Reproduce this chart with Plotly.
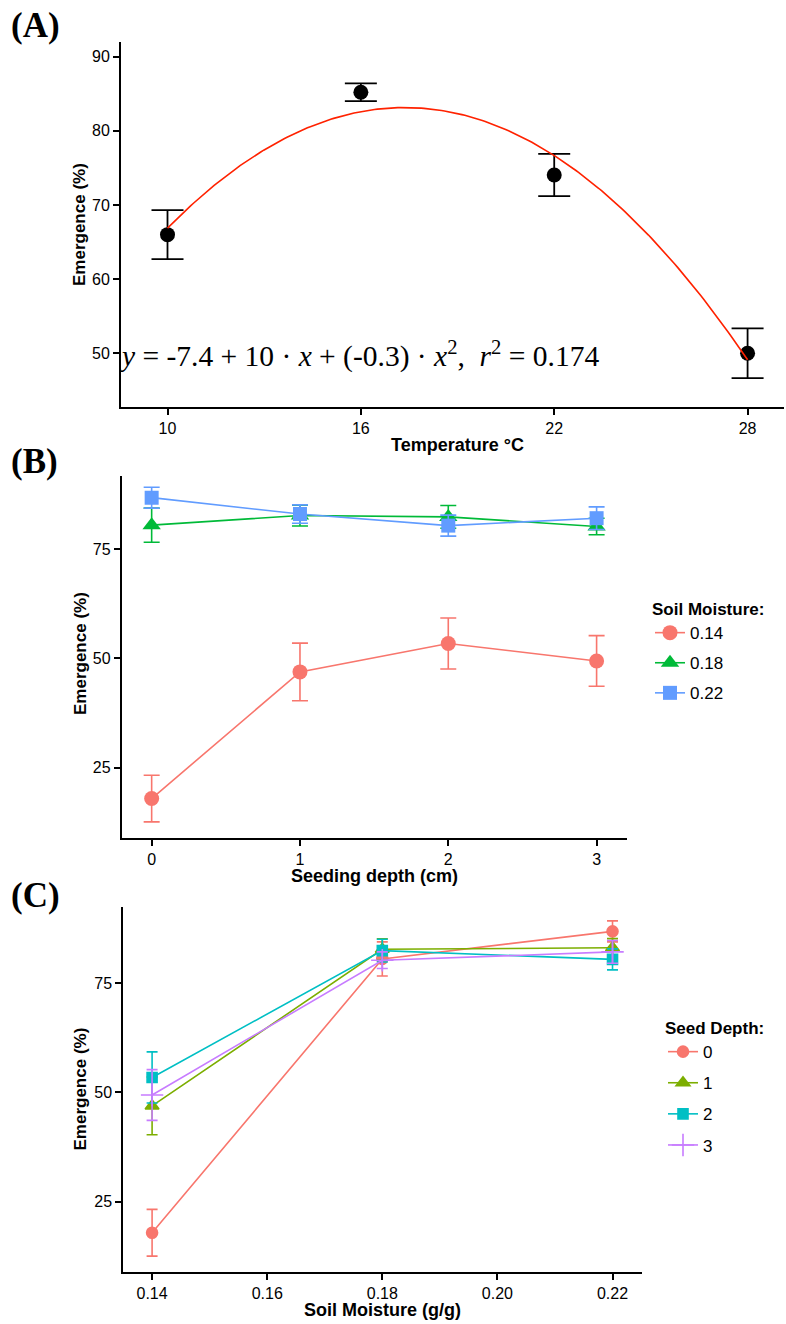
import numpy as np
import plotly.graph_objects as go

W, H = 786, 1324

# ---- Panel A: emergence vs temperature ----
temperature = [10, 16, 22, 28]
emerg_temp = [66.0, 85.2, 74.05, 50.0]
emerg_temp_se = [3.3, 1.2, 2.85, 3.35]

# ---- Panels B/C: emergence by soil moisture x seeding depth ----
soil_moisture = [0.14, 0.18, 0.22]
seed_depth = [0, 1, 2, 3]
# rows: soil moisture, columns: seeding depth
emerg_md = [
    [17.9, 46.9, 53.4, 49.4],
    [80.5, 82.7, 82.4, 80.2],
    [86.8, 83.05, 80.4, 82.1],
]
emerg_md_se = [
    [5.35, 6.6, 5.85, 5.8],
    [3.9, 2.4, 2.6, 1.9],
    [2.4, 2.1, 2.4, 2.6],
]

moisture_labels = ["0.14", "0.18", "0.22"]
depth_labels = ["0", "1", "2", "3"]

SANS = "Liberation Sans, Arial, Helvetica, sans-serif"
SERIF = "Liberation Serif, Times New Roman, serif"


def px_x(p):
    return p / W


def px_y(p):
    return 1 - p / H


fig = go.Figure()

# Panel A points with error bars
fig.add_trace(go.Scatter(
    x=temperature, y=emerg_temp, mode="markers",
    marker=dict(color="black", size=15),
    error_y=dict(type="data", array=emerg_temp_se, color="black",
                 thickness=1.8, width=16),
    showlegend=False, xaxis="x", yaxis="y",
))
# Quadratic fit
coef = np.polyfit(temperature, emerg_temp, 2)
xs = np.linspace(min(temperature), max(temperature), 200)
fig.add_trace(go.Scatter(
    x=xs, y=np.polyval(coef, xs), mode="lines",
    line=dict(color="#FF2200", width=1.6),
    showlegend=False, xaxis="x", yaxis="y",
))

# Panel B: one line per soil moisture
colors_b = ["#F8766D", "#00BA38", "#619CFF"]
symbols_b = ["circle", "triangle-up", "square"]
sizes_b = [15, 16, 14]
for i, lab in enumerate(moisture_labels):
    fig.add_trace(go.Scatter(
        x=seed_depth, y=emerg_md[i], mode="lines+markers", name=lab,
        legendgroup=f"m{lab}",
        line=dict(color=colors_b[i], width=1.6),
        marker=dict(color=colors_b[i], symbol=symbols_b[i], size=sizes_b[i]),
        error_y=dict(type="data", array=emerg_md_se[i], color=colors_b[i],
                     thickness=1.6, width=8),
        legend="legend2", xaxis="x2", yaxis="y2",
    ))

# Panel C: one line per seeding depth
colors_c = ["#F8766D", "#7CAE00", "#00BFC4", "#C77CFF"]
symbols_c = ["circle", "triangle-up", "square", "cross-thin"]
sizes_c = [11, 12, 10, 16]
for j, lab in enumerate(depth_labels):
    ys = [emerg_md[i][j] for i in range(len(soil_moisture))]
    es = [emerg_md_se[i][j] for i in range(len(soil_moisture))]
    fig.add_trace(go.Scatter(
        x=soil_moisture, y=ys, mode="lines+markers", name=lab,
        legendgroup=f"d{lab}",
        line=dict(color=colors_c[j], width=1.6),
        marker=dict(color=colors_c[j], symbol=symbols_c[j], size=sizes_c[j],
                    line=dict(color=colors_c[j], width=1.6)),
        error_y=dict(type="data", array=es, color=colors_c[j],
                     thickness=1.6, width=5.5),
        legend="legend3", xaxis="x3", yaxis="y3",
    ))

axis_common = dict(
    showline=True, linecolor="black", linewidth=1.8,
    ticks="outside", ticklen=6, tickwidth=1.5, tickcolor="black",
    showgrid=False, zeroline=False,
    tickfont=dict(family=SANS, size=16, color="black"),
)

legend_common = dict(
    xanchor="left", yanchor="top",
    font=dict(family=SANS, size=17, color="black"),
    bgcolor="rgba(0,0,0,0)",
)

layout = dict(
    width=W, height=H,
    margin=dict(l=0, r=0, t=0, b=0),
    paper_bgcolor="white", plot_bgcolor="white",
    xaxis=dict(domain=[px_x(121), px_x(784)], range=[8.557, 29.13],
               tickvals=temperature, anchor="y", **axis_common),
    yaxis=dict(domain=[px_y(406.7), px_y(41.7)], range=[42.8, 92.02],
               tickvals=[50, 60, 70, 80, 90], anchor="x", **axis_common),
    xaxis2=dict(domain=[px_x(121.7), px_x(627)], range=[-0.202, 3.205],
                tickvals=seed_depth, anchor="y2", **axis_common),
    yaxis2=dict(domain=[px_y(838.3), px_y(476)], range=[8.8, 91.76],
                tickvals=[25, 50, 75], anchor="x2", **axis_common),
    xaxis3=dict(domain=[px_x(123.2), px_x(642.1)], range=[0.13498, 0.22514],
                tickvals=[0.14, 0.16, 0.18, 0.20, 0.22], tickformat=".2f",
                anchor="y3", **axis_common),
    yaxis3=dict(domain=[px_y(1271.7), px_y(907.3)], range=[9.0, 92.3],
                tickvals=[25, 50, 75], anchor="x3", **axis_common),
    legend2=dict(
        x=px_x(650), y=px_y(593), tracegroupgap=5,
        title=dict(text="<b>Soil Moisture:</b>",
                   font=dict(family=SANS, size=17, color="black")),
        **legend_common,
    ),
    legend3=dict(
        x=px_x(663), y=px_y(1012), tracegroupgap=6,
        title=dict(text="<b>Seed Depth:</b>",
                   font=dict(family=SANS, size=17, color="black")),
        **legend_common,
    ),
)
fig.update_layout(**layout)

ann = []
# Panel tags
for tag, yc in [("(A)", 25.5), ("(B)", 461), ("(C)", 895)]:
    ann.append(dict(text=f"<b>{tag}</b>", x=px_x(9), y=px_y(yc),
                    xref="paper", yref="paper", xanchor="left", yanchor="middle",
                    showarrow=False,
                    font=dict(family=SERIF, size=35, color="black")))
# Axis titles
for text, xc, yc in [("Temperature °C", 457.5, 445),
                     ("Seeding depth (cm)", 374.4, 876),
                     ("Soil Moisture (g/g)", 382.7, 1310)]:
    ann.append(dict(text=f"<b>{text}</b>", x=px_x(xc), y=px_y(yc),
                    xref="paper", yref="paper", xanchor="center", yanchor="middle",
                    showarrow=False,
                    font=dict(family=SANS, size=18, color="black")))
for yc in [225, 654, 1089.5]:
    ann.append(dict(text="<b>Emergence (%)</b>", x=px_x(80), y=px_y(yc),
                    xref="paper", yref="paper", xanchor="center", yanchor="middle",
                    textangle=-90, showarrow=False,
                    font=dict(family=SANS, size=17, color="black")))
# Fitted equation
ann.append(dict(
    text="<i>y</i> = -7.4 + 10 · <i>x</i> + (-0.3) · <i>x</i><sup>2</sup>,  "
         "<i>r</i><sup>2</sup> = 0.174",
    x=px_x(117), y=px_y(354), xref="paper", yref="paper",
    xanchor="left", yanchor="middle", showarrow=False,
    font=dict(family=SERIF, size=29.5, color="black"),
))
fig.update_layout(annotations=ann)

fig.write_html("out.html")
